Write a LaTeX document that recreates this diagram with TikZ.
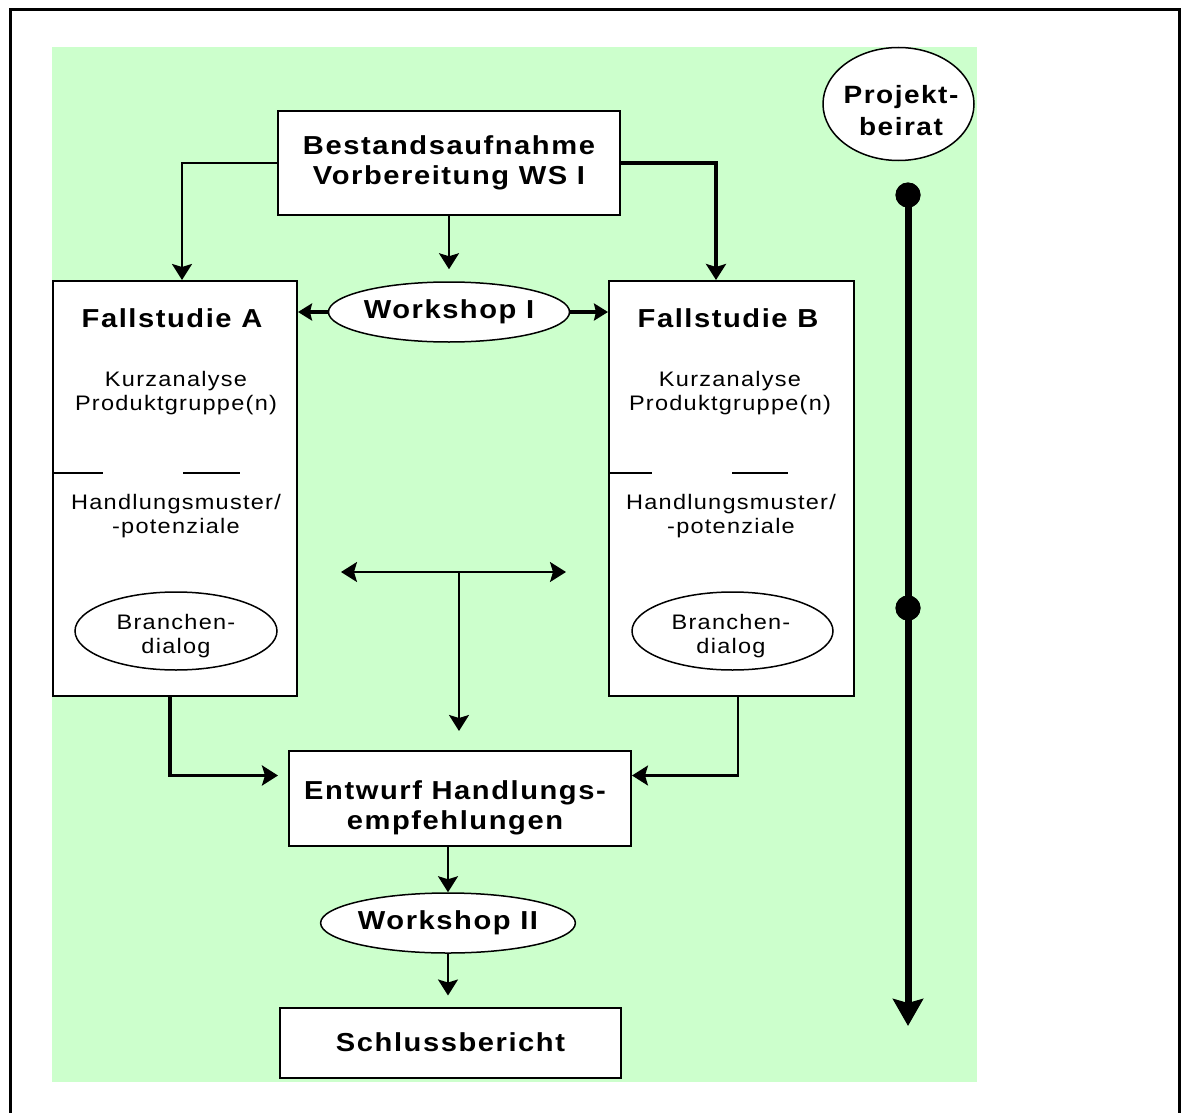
\documentclass[tikz,border=0pt]{standalone}
\usepackage{fontspec}
\setmainfont{Liberation Sans}
\newfontfamily\spaced{Liberation Sans}[FakeStretch=1.12, LetterSpace=6]
\usetikzlibrary{arrows.meta,shapes.geometric}
\definecolor{bggreen}{RGB}{204,255,204}

\tikzset{
  >={Stealth[length=16pt,width=20pt,inset=3pt]},
  box/.style={draw, line width=2pt, fill=white, rectangle, inner sep=0pt},
  oval/.style={draw, line width=1.5pt, fill=white, ellipse, inner sep=0pt},
  head/.style={font=\spaced\bfseries\fontsize{26}{30}\selectfont, align=center},
  body/.style={font=\spaced\fontsize{21}{23.5}\selectfont, align=center},
  flow/.style={line width=2pt, ->},
  sideflow/.style={line width=4pt, -{Stealth[length=14pt,width=17pt,inset=2pt]}},
  dot/.style={circle, fill=black, inner sep=0pt, minimum size=25pt},
  divider/.style={line width=2pt}
}

\begin{document}
\begin{tikzpicture}[x=1pt,y=-1pt]
\useasboundingbox (0,0) rectangle (1186,1113);

% background panel and frame
\fill[bggreen] (52,47) rectangle (977,1082);
\draw[line width=3pt] (10,1113) -- (10,10) -- (1179,10) -- (1179,1113);

% main boxes
\node[box, minimum width=342pt, minimum height=104pt, head] (best) at (449,163)
  {Bestandsaufnahme\\Vorbereitung WS I};
\node[box, minimum width=244pt, minimum height=415pt] (fsA) at (175,488.5) {};
\node[box, minimum width=245pt, minimum height=415pt] (fsB) at (731.5,488.5) {};
\node[oval, minimum width=233pt, minimum height=60pt, head] (ws1) at (449,312) {Workshop I};
\node[box, minimum width=342pt, minimum height=95pt] (entw) at (460,798.5) {};
\node[head] (entwt) at (455,807.5) {Entwurf Handlungs-\\empfehlungen};
\node[oval, minimum width=236pt, minimum height=60pt, head] (ws2) at (448,923) {Workshop II};
\node[box, minimum width=341pt, minimum height=70pt, head] (sch) at (450.5,1042.5) {Schlussbericht};
\node[oval, minimum width=151pt, minimum height=113pt] (beirat) at (898.5,104) {};
\node[head, font=\spaced\bfseries\fontsize{25}{32}\selectfont] (beiratt) at (901,111)
  {Projekt-\\beirat};

% contents of case study A
\node[head] (fsAt) at (172,318) {Fallstudie A};
\node[body] (fsAk) at (176,393) {Kurzanalyse\\Produktgruppe(n)};
\node[body] (fsAh) at (176,516) {Handlungsmuster/\\-potenziale};
\node[oval, minimum width=202pt, minimum height=78pt] (brA) at (176,631) {};
\node[body] (brAt) at (176,636) {Branchen-\\dialog};
\draw[divider] (fsA.west |- 0,473) -- (103,473);
\draw[divider] (183,473) -- (240,473);

% contents of case study B
\node[head] (fsBt) at (728,318) {Fallstudie B};
\node[body] (fsBk) at (730,393) {Kurzanalyse\\Produktgruppe(n)};
\node[body] (fsBh) at (731,516) {Handlungsmuster/\\-potenziale};
\node[oval, minimum width=201pt, minimum height=78pt] (brB) at (732.5,631) {};
\node[body] (brBt) at (731,636) {Branchen-\\dialog};
\draw[divider] (fsB.west |- 0,473) -- (652,473);
\draw[divider] (732,473) -- (788,473);

% connectors from the survey
\draw[flow, line width=2.4pt] (best.west) -| ([xshift=7pt]fsA.north);
\draw[flow, line width=3.4pt] (best.east) -| ([xshift=-15.5pt]fsB.north);
\draw[flow, shorten >=12pt] (best.south) -- (best.south |- ws1.north);
\draw[sideflow] (ws1.west) -- (ws1.west -| fsA.east);
\draw[sideflow] (ws1.east) -- (ws1.east -| fsB.west);

% exchange between the case studies
\coordinate (tl) at (341,572);
\coordinate (tr) at (566,572);
\coordinate (tm) at (459,572);
\draw[line width=2pt, <->] (tl) -- (tr);
\draw[flow, shorten >=19pt] (tm) -- (tm |- entw.north);

% case studies into the recommendations
\draw[flow, line width=3.4pt, shorten >=10pt] ([xshift=-5pt]fsA.south) |- ([yshift=23pt]entw.west);
\draw[flow, line width=2.4pt] ([xshift=6.5pt]fsB.south) |- ([yshift=23pt]entw.east);
\draw[flow] (ws2.north |- entw.south) -- (ws2.north);
\draw[flow, shorten >=11pt] (ws2.south) -- (ws2.south |- sch.north);

% advisory board timeline
\node[dot] (d1) at (908,195) {};
\node[dot] (d2) at (908,608) {};
\coordinate (tend) at (908,1026);
\draw[line width=7pt, -{Stealth[length=27pt,width=30pt,inset=4pt]}] (d1.center) -- (tend);
\node[dot] at (d1) {};
\node[dot] at (d2) {};
\end{tikzpicture}
\end{document}
